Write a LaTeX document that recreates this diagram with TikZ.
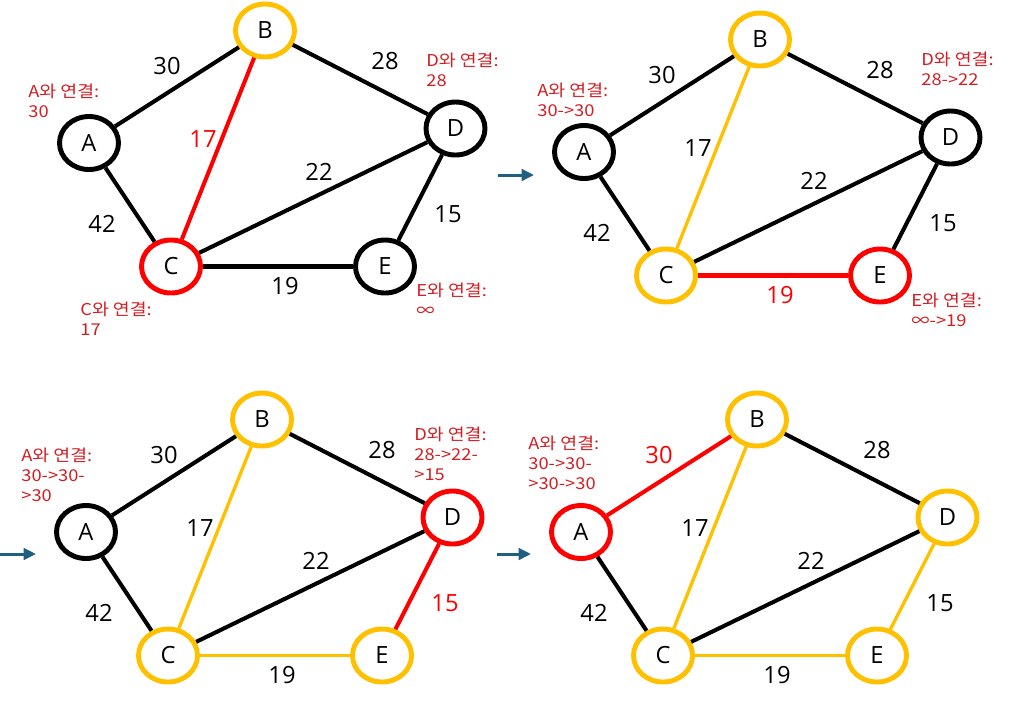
\documentclass[tikz,border=0pt]{standalone}
\usepackage{fontspec}
\setmainfont{Open Sans}
\newfontfamily\krfont[FakeStretch=1.12]{Noto Sans CJK KR}
\usetikzlibrary{shapes.geometric,arrows.meta}

\definecolor{gold}{RGB}{255,192,0}
\definecolor{hotred}{RGB}{255,0,0}
\definecolor{notered}{RGB}{210,30,35}
\definecolor{steel}{RGB}{31,96,128}

\tikzset{
  vtx/.style={draw, ellipse, line width=2.8pt, minimum width=1.18cm, minimum height=1.06cm,
    inner sep=0pt, font=\fontsize{13.5}{16}\selectfont},
  wt/.style={inner sep=0pt, font=\fontsize{13.5}{16}\selectfont},
  note/.style={inner sep=0pt, anchor=north west, align=left, text=notered,
    font=\krfont\fontsize{9.3}{11.3}\selectfont},
  blk/.style={line width=2.3pt},
  ylw/.style={draw=gold, line width=1.9pt},
  hot/.style={draw=hotred, line width=2.3pt},
  next/.style={draw=steel, line width=1.7pt, -{Triangle[length=7pt,width=6.5pt]}},
  nA/.style={}, nB/.style={}, nC/.style={}, nD/.style={}, nE/.style={},
  eAB/.style={blk}, eBD/.style={blk}, eBC/.style={blk}, eAC/.style={blk},
  eCD/.style={blk}, eDE/.style={blk}, eCE/.style={blk},
  lAB/.style={}, lBD/.style={}, lBC/.style={}, lAC/.style={},
  lCD/.style={}, lDE/.style={}, lCE/.style={},
}

\newcommand{\primpanel}[1]{
  \node[vtx,nA] (A#1) at (0.89,-1.43) {A};
  \node[vtx,nB] (B#1) at (2.65,-0.305) {B};
  \node[vtx,nC] (C#1) at (1.71,-2.665) {C};
  \node[vtx,nD] (D#1) at (4.555,-1.285) {D};
  \node[vtx,nE] (E#1) at (3.85,-2.665) {E};

  \draw[eAB] (A#1) -- (B#1);
  \draw[eBD] (B#1) -- (D#1);
  \draw[eBC] (B#1) -- (C#1);
  \draw[eAC] (A#1) -- (C#1);
  \draw[eCD] (C#1) -- (D#1);
  \draw[eDE] (D#1) -- (E#1);
  \draw[eCE] (C#1) -- (E#1);

  \node[wt,lAB] at (1.67,-0.66) {30};
  \node[wt,lBD] at (3.85,-0.61) {28};
  \node[wt,lBC] at (2.03,-1.39) {17};
  \node[wt,lCD] at (3.19,-1.72) {22};
  \node[wt,lAC] at (1.02,-2.24) {42};
  \node[wt,lDE] at (4.48,-2.14) {15};
  \node[wt,lCE] at (2.85,-2.86) {19};
}

\begin{document}
\begin{tikzpicture}[x=2cm,y=2cm]
  \useasboundingbox (0,0) rectangle (10.10,-7.05);

  \begin{scope}[nB/.style={draw=gold}, nC/.style={draw=hotred},
      eBC/.style={hot}, lBC/.style={text=hotred}]
    \primpanel{1}
  \end{scope}

  \begin{scope}[shift={(4.95,-0.09)}, nB/.style={draw=gold}, nC/.style={draw=gold},
      nE/.style={draw=hotred}, eBC/.style={ylw}, eCE/.style={hot}, lCE/.style={text=hotred}]
    \primpanel{2}
  \end{scope}

  \begin{scope}[shift={(-0.03,-3.89)}, nB/.style={draw=gold}, nC/.style={draw=gold},
      nD/.style={draw=hotred}, nE/.style={draw=gold}, eBC/.style={ylw}, eCE/.style={ylw},
      eDE/.style={hot}, lDE/.style={text=hotred}]
    \primpanel{3}
  \end{scope}

  \begin{scope}[shift={(4.92,-3.89)}, nA/.style={draw=hotred}, nB/.style={draw=gold},
      nC/.style={draw=gold}, nD/.style={draw=gold}, nE/.style={draw=gold},
      eAB/.style={hot}, eBC/.style={ylw}, eCE/.style={ylw}, eDE/.style={ylw},
      lAB/.style={text=hotred}]
    \primpanel{4}
  \end{scope}

  \node[note] (nA1) at (0.28,-0.84) {A와 연결:\\30};
  \node[note] (nD1) at (4.26,-0.53) {D와 연결:\\28};
  \node[note] (nC1) at (0.80,-3.02) {C와 연결:\\17};
  \node[note] (nE1) at (4.16,-2.83) {E와 연결:\\∞};

  \node[note] (nA2) at (5.37,-0.83) {A와 연결:\\30->30};
  \node[note] (nD2) at (9.21,-0.52) {D와 연결:\\28->22};
  \node[note] (nE2) at (9.11,-2.93) {E와 연결:\\∞->19};

  \node[note] (nA3) at (0.21,-4.48) {A와 연결:\\30->30-\\>30};
  \node[note] (nD3) at (4.14,-4.27) {D와 연결:\\28->22-\\>15};

  \node[note] (nA4) at (5.28,-4.36) {A와 연결:\\30->30-\\>30->30};

  \coordinate (s2) at (4.98,-1.75);
  \coordinate (t2) at (5.34,-1.75);
  \coordinate (s3) at (0,-5.54);
  \coordinate (t3) at (0.36,-5.54);
  \coordinate (s4) at (4.97,-5.54);
  \coordinate (t4) at (5.31,-5.54);
  \draw[next] (s2) -- (t2);
  \draw[next] (s3) -- (t3);
  \draw[next] (s4) -- (t4);
\end{tikzpicture}
\end{document}
